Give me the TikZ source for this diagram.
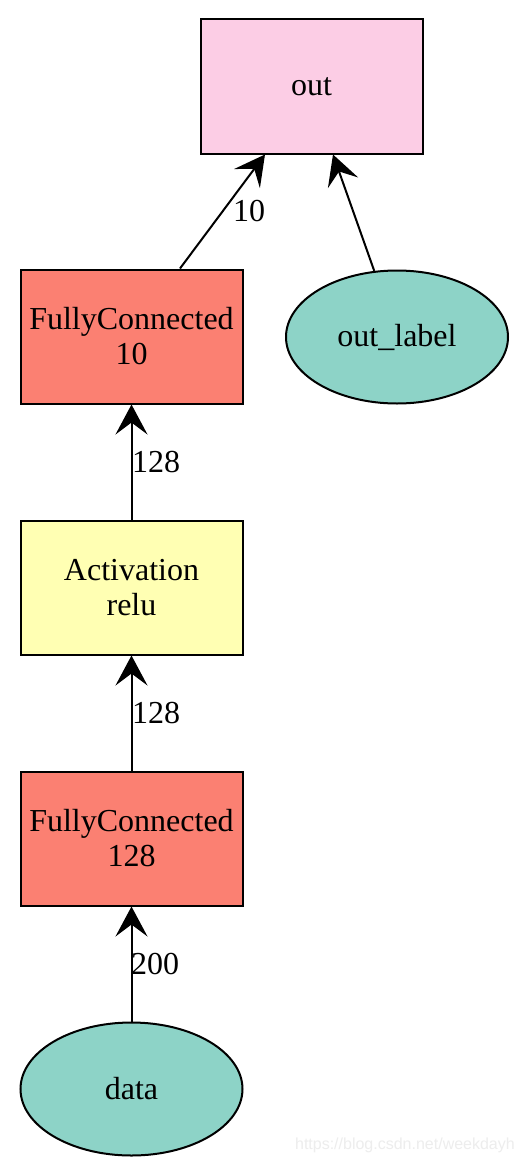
\documentclass[tikz,border=0pt]{standalone}
\usepackage{fontspec}
\setmainfont{Liberation Serif}
\newfontfamily\wmfont{Liberation Sans}
\usetikzlibrary{arrows.meta,shapes.geometric}
\definecolor{pinkc}{HTML}{FCCDE5}
\definecolor{salmonc}{HTML}{FB8072}
\definecolor{yellowc}{HTML}{FFFFB3}
\definecolor{tealc}{HTML}{8DD3C7}
\begin{document}
\begin{tikzpicture}[x=1pt,y=-1pt,
  box/.style={draw=black, line width=2pt, rectangle, minimum width=222pt, minimum height=134pt, inner sep=0pt, font=\fontsize{32}{35}\selectfont, align=center},
  oval/.style={draw=black, line width=2pt, ellipse, minimum width=222pt, minimum height=133pt, inner sep=0pt, font=\fontsize{32}{35}\selectfont, fill=tealc},
  edge/.style={line width=2pt, -{Stealth[length=30pt,width=32pt,inset=12pt]}},
  lab/.style={font=\fontsize{32}{35}\selectfont, inner sep=0pt}]
\fill[white] (0,0) rectangle (524,1164);
\useasboundingbox (0,0) rectangle (524,1164);
\node[box, fill=pinkc] (out) at (311.5,86.5) {out};
\node[box, fill=salmonc] (fc10) at (131.5,336.5) {FullyConnected\\10};
\node[oval] (outlabel) at (397,337) {out\_label};
\node[box, fill=yellowc] (act) at (131.5,587.5) {Activation\\relu};
\node[box, fill=salmonc] (fc128) at (131.5,838.5) {FullyConnected\\128};
\node[oval] (data) at (131.5,1089) {data};
\draw[edge] ([xshift=48.5pt]fc10.north) -- ([xshift=-46.5pt]out.south);
\draw[edge] (outlabel.109) -- ([xshift=21.5pt]out.south);
\draw[edge] (act.north) -- (fc10.south);
\draw[edge] (fc128.north) -- (act.south);
\draw[edge] (data.north) -- (fc128.south);
\node[lab] (l1) at (249,211) {10};
\node[lab] (l2) at (156,462) {128};
\node[lab] (l3) at (156,713) {128};
\node[lab] (l4) at (155,964) {200};
\node[font=\wmfont\fontsize{16}{16}\selectfont, text=black!7, anchor=east, inner sep=0pt] (wm) at (515,1145) {https://blog.csdn.net/weekdayh};
\end{tikzpicture}
\end{document}
